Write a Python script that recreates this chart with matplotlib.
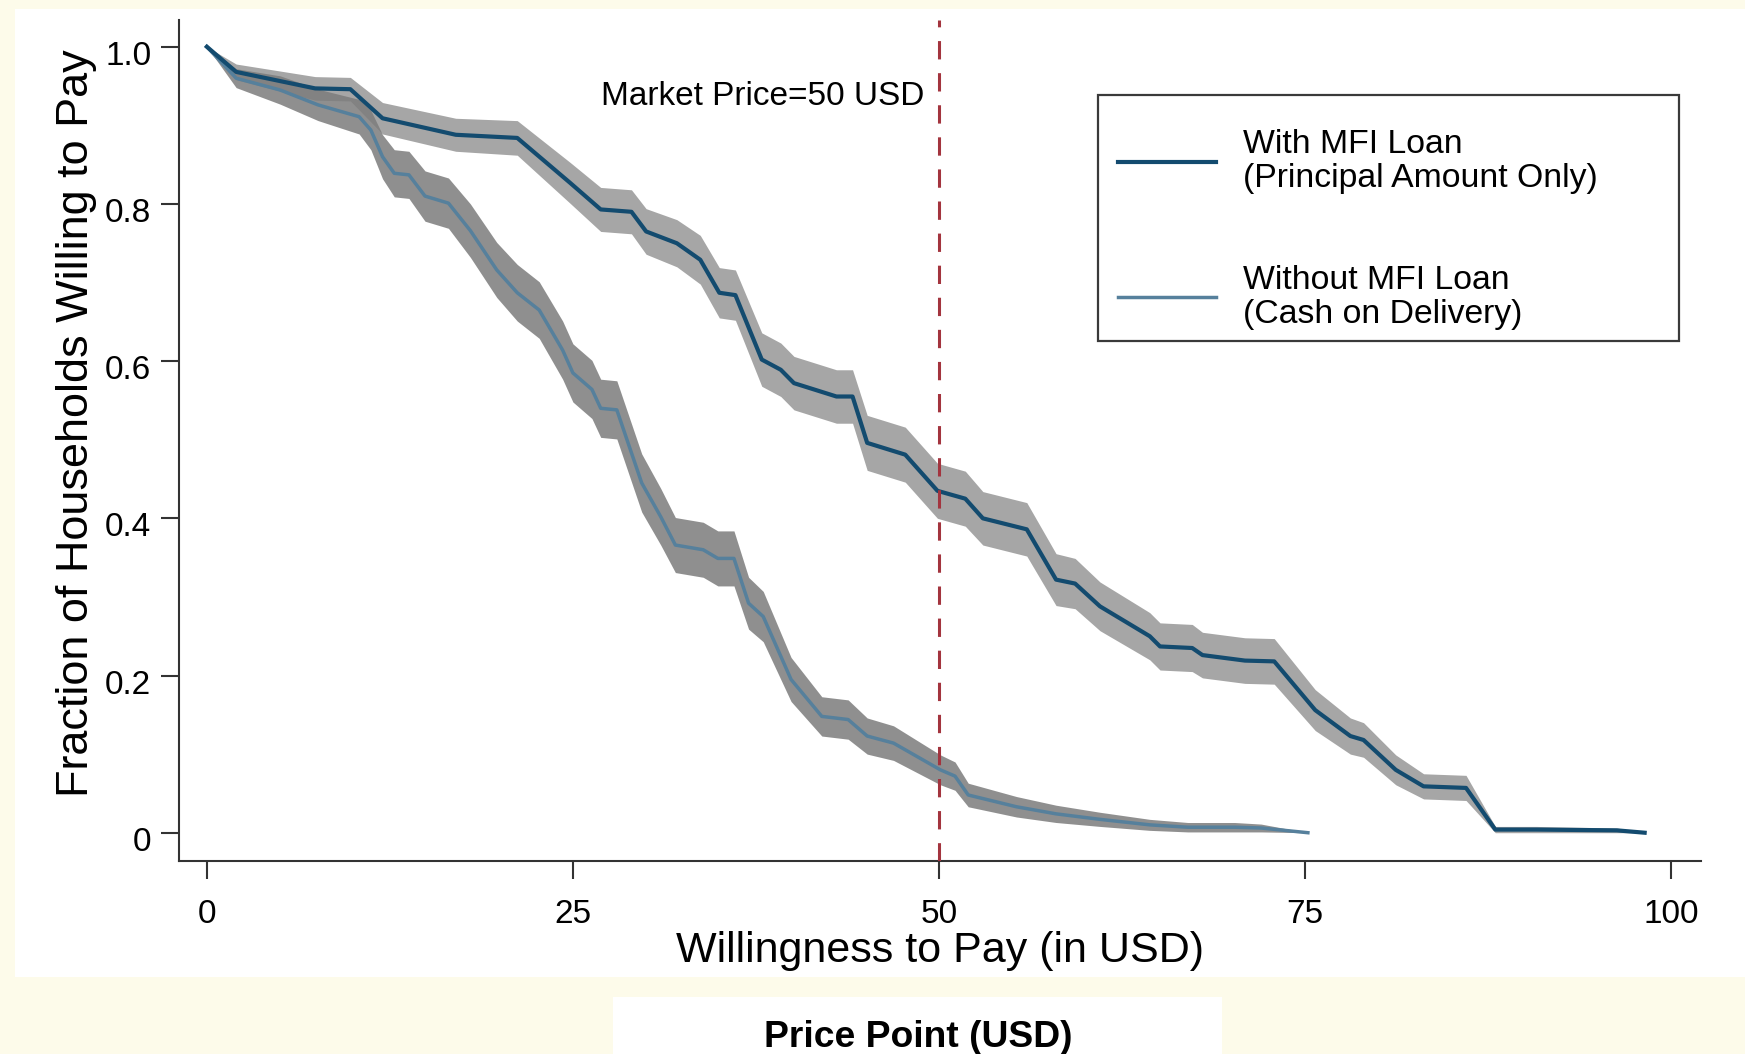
import numpy as np
import matplotlib.pyplot as plt
from matplotlib.patches import Rectangle
from matplotlib.transforms import ScaledTranslation

plt.rcParams['font.family'] = ['Liberation Sans', 'DejaVu Sans']

# With MFI loan (principal amount only): price, share willing, CI half width
with_x = [0, 2, 7.4, 9.8, 12.0, 17.0, 21.2, 24.8, 26.9, 29.0,
          30.0, 32.1, 33.7, 35.0, 36.1, 37.9, 39.2, 40.1, 43.0, 44.1,
          45.1, 47.7, 49.9, 51.8, 53.0, 56.0, 58.0, 59.3, 61.0, 64.4,
          65.1, 67.3, 68.0, 70.9, 72.9, 75.7, 78.1, 79.0, 81.2, 83.1,
          86.0, 88.0, 90.8, 96.3, 98.2]
with_y = [1.0, 0.968, 0.947, 0.946, 0.909, 0.888, 0.884, 0.827, 0.793, 0.790,
          0.765, 0.750, 0.729, 0.687, 0.684, 0.602, 0.589, 0.572, 0.555, 0.555,
          0.496, 0.481, 0.435, 0.425, 0.400, 0.386, 0.322, 0.317, 0.288, 0.250,
          0.237, 0.235, 0.226, 0.219, 0.218, 0.156, 0.123, 0.118, 0.080, 0.059,
          0.057, 0.004, 0.004, 0.003, 0.0]
with_ci = [0.0, 0.01, 0.015, 0.015, 0.02, 0.021, 0.022, 0.026, 0.028, 0.028,
           0.029, 0.03, 0.031, 0.032, 0.032, 0.034, 0.034, 0.034, 0.034, 0.034,
           0.035, 0.035, 0.035, 0.035, 0.034, 0.034, 0.033, 0.032, 0.031, 0.03,
           0.03, 0.03, 0.029, 0.029, 0.029, 0.026, 0.023, 0.022, 0.019, 0.016,
           0.016, 0.004, 0.004, 0.003, 0.0]

# Without MFI loan (cash on delivery)
without_x = [0, 2, 5, 7.6, 10.4, 11.2, 12.0, 12.8, 13.8, 14.9,
             16.5, 18.0, 19.8, 21.2, 22.7, 24.3, 25.0, 26.3, 26.9, 28.0,
             29.7, 31.0, 32.0, 33.9, 34.9, 36.0, 37.0, 38.0, 39.9, 42.0,
             43.8, 45.1, 46.9, 50.1, 51.1, 52.0, 55.3, 58, 61.0, 64.4,
             67, 70.2, 72, 75.2]
without_y = [1.0, 0.96, 0.945, 0.926, 0.911, 0.894, 0.860, 0.839, 0.837, 0.81,
             0.801, 0.766, 0.716, 0.687, 0.665, 0.614, 0.585, 0.564, 0.540, 0.538,
             0.445, 0.402, 0.366, 0.360, 0.349, 0.349, 0.292, 0.275, 0.195, 0.148,
             0.144, 0.123, 0.114, 0.080, 0.072, 0.048, 0.033, 0.024, 0.017, 0.010,
             0.007, 0.007, 0.006, 0.0]
without_ci = [0.0, 0.012, 0.018, 0.02, 0.022, 0.025, 0.028, 0.03, 0.03, 0.032,
              0.032, 0.034, 0.035, 0.036, 0.036, 0.037, 0.037, 0.037, 0.037, 0.037,
              0.037, 0.036, 0.035, 0.035, 0.035, 0.035, 0.033, 0.032, 0.028, 0.025,
              0.025, 0.023, 0.022, 0.019, 0.018, 0.015, 0.013, 0.011, 0.009, 0.007,
              0.006, 0.006, 0.005, 0.0]

market_price = 50
x_ticks = [0, 25, 50, 75, 100]
y_ticks = [0, 0.2, 0.4, 0.6, 0.8, 1.0]
y_tick_labels = ['0', '0.2', '0.4', '0.6', '0.8', '1.0']

dark = '#134b6f'
light = '#56809c'

fig = plt.figure(figsize=(17.45, 10.54), dpi=100)
fig.patch.set_facecolor('#fdfbea')

# white panels behind the chart and the caption
fig.add_artist(Rectangle((0.0086, 0.073), 0.9914, 0.9185, transform=fig.transFigure,
                         facecolor='white', edgecolor='none', zorder=-10))
fig.add_artist(Rectangle((0.3513, 0.0), 0.349, 0.054, transform=fig.transFigure,
                         facecolor='white', edgecolor='none', zorder=-10))

ax = fig.add_axes([0.1026, 0.1831, 0.8722, 0.7979])
ax.set_facecolor('white')

wx, wy, wc = np.array(with_x), np.array(with_y), np.array(with_ci)
nx, ny, nc = np.array(without_x), np.array(without_y), np.array(without_ci)

ax.fill_between(wx, wy - wc, wy + wc, color='#a6a6a6', lw=0, zorder=1)
ax.fill_between(nx, ny - nc, ny + nc, color='#7c7c7c', alpha=0.85, lw=0, zorder=2)
ax.plot(nx, ny, color=light, lw=2.5, zorder=3, label='Without MFI Loan\n(Cash on Delivery)')
ax.plot(wx, wy, color=dark, lw=3.0, zorder=4, label='With MFI Loan\n(Principal Amount Only)')

ax.axvline(market_price, color='#a3343e', lw=2.2, dashes=(6, 4.5), zorder=5)
ax.text(49, 0.937, 'Market Price=50 USD', ha='right', va='center', fontsize=24)

ax.set_xlim(-1.9, 102.05)
ax.set_ylim(-0.036, 1.034)
ax.set_xticks(x_ticks)
ax.set_yticks(y_ticks)
ax.set_yticklabels(y_tick_labels)
for s in ['top', 'right']:
    ax.spines[s].set_visible(False)
for s in ['left', 'bottom']:
    ax.spines[s].set_linewidth(1.5)
    ax.spines[s].set_color('#333333')
ax.tick_params(axis='both', direction='out', length=13, width=1.5, color='#333333',
               labelsize=24)
ax.tick_params(axis='x', pad=14)
ax.tick_params(axis='y', pad=7)
for lab in ax.get_yticklabels():
    lab.set_transform(lab.get_transform() + ScaledTranslation(0, -0.06, fig.dpi_scale_trans))

ax.set_xlabel('Willingness to Pay (in USD)', fontsize=31)
ax.xaxis.set_label_coords(0.5, -0.083)
ax.set_ylabel('Fraction of Households Willing to Pay', fontsize=32.4)
ax.yaxis.set_label_coords(-0.054, 0.521)

handles, labels = ax.get_legend_handles_labels()
leg = ax.legend(handles[::-1], labels[::-1], loc='upper left',
                bbox_to_anchor=(0.6407, 0.8775), bbox_transform=fig.transFigure,
                frameon=False, fontsize=24.3, handlelength=2.9, handletextpad=0.8,
                labelspacing=2.1, borderpad=0, borderaxespad=0)
for t in leg.get_texts():
    t.set_linespacing(1.12)
ax.add_patch(Rectangle((0.6292, 0.6765), 0.333, 0.2334, transform=fig.transFigure,
                       fill=False, edgecolor='#3a3a3a', lw=1.6, zorder=6, clip_on=False))

fig.text(0.526, 0.016, 'Price Point (USD)', ha='center', va='center',
         fontsize=26.8, fontweight='bold')

fig.savefig('out.png', dpi=100, facecolor=fig.get_facecolor())
